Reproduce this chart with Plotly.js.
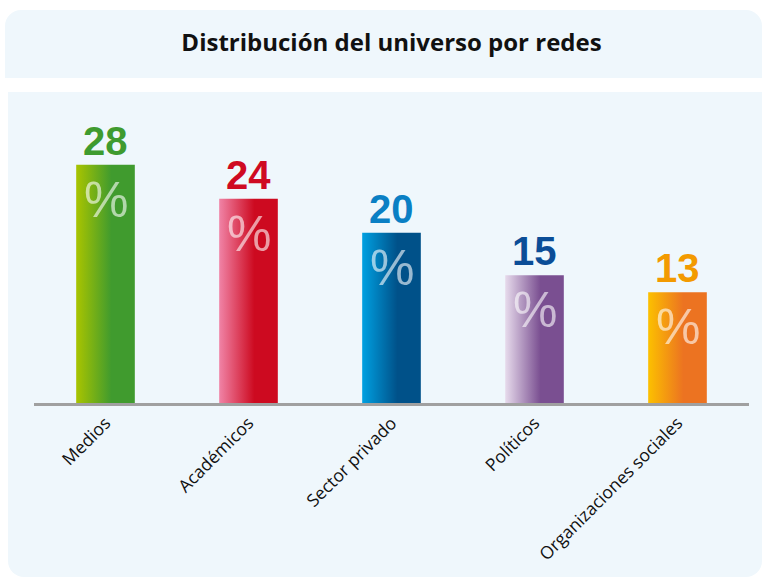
<!DOCTYPE html>
<html>
<head>
<meta charset="utf-8">
<script src="https://cdn.plot.ly/plotly-3.0.1.min.js"></script>
<style>
  html, body { margin: 0; padding: 0; background: #ffffff; }
  #wrap { position: relative; width: 765px; height: 578px; overflow: hidden; }
  .panel { position: absolute; background: #eff7fc; }
  #p1 { left: 5px; top: 10px; width: 757px; height: 68px; border-radius: 16px 16px 0 0; }
  #p2 { left: 8px; top: 92px; width: 754px; height: 485px; border-radius: 0 0 16px 16px; }
  #chart { position: absolute; left: 0; top: 0; width: 765px; height: 578px; }
</style>
</head>
<body>
<div id="wrap">
  <div class="panel" id="p1"></div>
  <div class="panel" id="p2"></div>
  <div id="chart"></div>
</div>
<script>
// ---- data ----
const categories = ["Medios", "Académicos", "Sector privado", "Políticos", "Organizaciones sociales"];
const values = [28, 24, 20, 15, 13];
const labelColors = ["#3f9b2f", "#cf0a22", "#0a7fc4", "#0b4d97", "#f39a00"];
const gradLeft = ["#a9c400", "#f083a6", "#00a0e1", "#e7dbec", "#fcc000"];
const gradRight = ["#409b2e", "#cd0a20", "#005189", "#7a4f91", "#ec7321"];
const titleText = "Distribución del universo por redes";

// ---- annotations built from data ----
const annotations = [];
categories.forEach((c, i) => {
  annotations.push({
    x: c, y: values[i], xref: "x", yref: "y",
    text: String(values[i]), showarrow: false,
    yanchor: "bottom", yshift: 0,
    font: { family: "Liberation Sans, Arial, sans-serif", size: 40, weight: "bold", color: labelColors[i] }
  });
  annotations.push({
    x: c, y: values[i], xref: "x", yref: "y",
    text: "%", showarrow: false,
    yanchor: "top", yshift: -5,
    font: { family: "Liberation Sans, Arial, sans-serif", size: 50, color: "rgba(255,255,255,0.6)" }
  });
});

const trace = {
  type: "bar",
  x: categories,
  y: values,
  marker: { color: gradRight, line: { width: 0 } },
  hoverinfo: "none"
};

const layout = {
  width: 765, height: 578,
  paper_bgcolor: "rgba(0,0,0,0)",
  plot_bgcolor: "rgba(0,0,0,0)",
  margin: { l: 34, r: 16, t: 100, b: 175 },
  bargap: 0.59,
  showlegend: false,
  title: {
    text: "<b>" + titleText + "</b>",
    x: 0.5, xref: "paper",
    y: 1 - 43 / 578, yref: "container", yanchor: "middle",
    font: { family: "Open Sans, sans-serif", size: 24, color: "#111111" }
  },
  xaxis: {
    type: "category",
    showline: true, linecolor: "#a0a0a0", linewidth: 3,
    ticks: "", tickangle: -45,
    tickfont: { family: "Open Sans, sans-serif", size: 17.5, color: "#111111" },
    showgrid: false, zeroline: false, fixedrange: true
  },
  yaxis: {
    range: [0, 35.6], visible: false, showgrid: false, zeroline: false, fixedrange: true
  },
  annotations: annotations
};

Plotly.newPlot("chart", [trace], layout, { displayModeBar: false, staticPlot: true }).then(gd => {
  const svg = gd.querySelector(".main-svg");
  const NS = "http://www.w3.org/2000/svg";
  let defs = svg.querySelector("defs");
  if (!defs) { defs = document.createElementNS(NS, "defs"); svg.insertBefore(defs, svg.firstChild); }
  categories.forEach((c, i) => {
    const g = document.createElementNS(NS, "linearGradient");
    g.setAttribute("id", "bargrad" + i);
    g.setAttribute("x1", "0"); g.setAttribute("y1", "0");
    g.setAttribute("x2", "1"); g.setAttribute("y2", "0");
    [[0, gradLeft[i]], [0.6, gradRight[i]], [1, gradRight[i]]].forEach(([o, col]) => {
      const s = document.createElementNS(NS, "stop");
      s.setAttribute("offset", o);
      s.setAttribute("stop-color", col);
      g.appendChild(s);
    });
    defs.appendChild(g);
  });
  const paths = gd.querySelectorAll(".barlayer .trace .point path");
  paths.forEach((p, i) => { p.style.fill = "url(#bargrad" + i + ")"; });
});
</script>
</body>
</html>
